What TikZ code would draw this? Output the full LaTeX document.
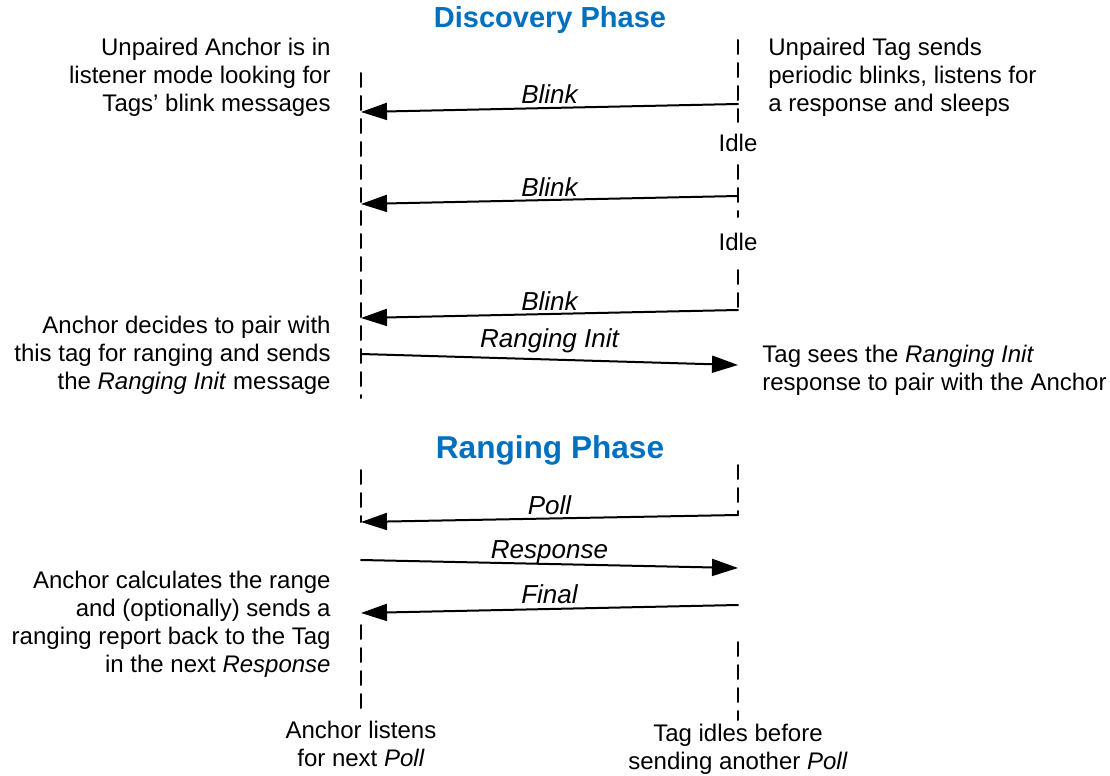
\documentclass[tikz,border=0pt]{standalone}
\usepackage{fontspec}
\setmainfont{Liberation Sans}
\usepackage{tkz-euclide}
\usetikzlibrary{arrows.meta}
\definecolor{bleuphase}{RGB}{0,112,192}

\begin{document}
\begin{tikzpicture}[x=0.5pt, y=-0.5pt,
    every node/.style={inner sep=0pt, font=\fontsize{12}{14}\selectfont},
    lifeline/.style={line width=1pt, dash pattern=on 7pt off 4.5pt},
    msg/.style={line width=1pt, -{Triangle[length=13pt,width=8.5pt]}},
    msglabel/.style={anchor=base, yshift=2pt, font=\fontsize{13}{15}\selectfont\itshape},
    phase/.style={text=bleuphase, font=\fontsize{14.5}{17}\selectfont\bfseries}]
    \useasboundingbox (0,0) rectangle (1110,776);
    % définition des points
    \tkzDefPoints{361/73/A_1,361/112/A_2,361/204/A_3,361/318/A_4,361/354/A_5,361/398/A_6}
    \tkzDefPoints{361/470/A_7,361/522/A_8,361/560/A_9,361/613/A_10,361/625/A_11,361/708/A_12}
    \tkzDefPoints{738/40/T_1,738/104/T_2,738/122/T_3,738/165/T_4,738/196/T_5,738/217/T_6}
    \tkzDefPoints{738/270/T_7,738/310/T_8,738/365/T_9}
    \tkzDefPoints{738/465/T_10,738/515/T_11,738/568/T_12,738/605/T_13,738/642/T_14,738/720/T_15}
    % lignes de vie
    \tkzDrawSegments[lifeline](A_1,A_6 A_7,A_8 A_11,A_12)
    \tkzDrawSegments[lifeline](T_1,T_3 T_4,T_6 T_7,T_8 T_10,T_11 T_14,T_15)
    % messages
    \tkzDrawSegments[msg](T_2,A_2 T_5,A_3 T_8,A_4 A_5,T_9)
    \tkzDrawSegments[msg](T_11,A_8 A_9,T_12 T_13,A_10)
    \tkzLabelSegment[msglabel](T_2,A_2){Blink}
    \tkzLabelSegment[msglabel](T_5,A_3){Blink}
    \tkzLabelSegment[msglabel](T_8,A_4){Blink}
    \tkzLabelSegment[msglabel, yshift=4pt](A_5,T_9){Ranging Init}
    \tkzLabelSegment[msglabel](T_11,A_8){Poll}
    \tkzLabelSegment[msglabel, yshift=1pt](A_9,T_12){Response}
    \tkzLabelSegment[msglabel, yshift=1pt](T_13,A_10){Final}
    % textes
    \node[phase] (decouverte) at (550,20) {Discovery Phase};
    \node[phase, font=\fontsize{15.8}{18}\selectfont\bfseries] (mesure) at (550,450) {Ranging Phase};
    \node (idle1) at (738,143) {Idle};
    \node (idle2) at (738,242) {Idle};
    \node[anchor=east, align=right] (ancre1) at (331,77)
      {Unpaired Anchor is in\\listener mode looking for\\Tags’ blink messages};
    \node[anchor=west, align=left] (tag1) at (768,77)
      {Unpaired Tag sends\\periodic blinks, listens for\\a response and sleeps};
    \node[anchor=east, align=right] (ancre2) at (331,355)
      {Anchor decides to pair with\\this tag for ranging and sends\\the \textit{Ranging Init} message};
    \node[anchor=west, align=left] (tag2) at (762,370)
      {Tag sees the \textit{Ranging Init}\\response to pair with the Anchor};
    \node[anchor=east, align=right] (ancre3) at (331,624)
      {Anchor calculates the range\\and (optionally) sends a\\ranging report back to the Tag\\in the next \textit{Response}};
    \node[align=center] (ancre4) at (361,744) {Anchor listens\\for next \textit{Poll}};
    \node[align=center] (tag3) at (738,749) {Tag idles before\\sending another \textit{Poll}};
\end{tikzpicture}
\end{document}
